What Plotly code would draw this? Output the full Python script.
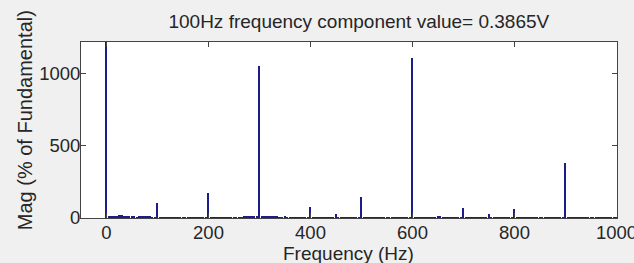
import plotly.graph_objects as go

freq_hz = list(range(0, 1001, 5))
mag_pct = [
    1300, 12, 10, 8, 12, 22, 18, 15, 14, 10, 12, 8, 6, 10, 12, 9, 7, 10, 6, 5,
    105, 6, 4, 3, 5, 2, 3, 4, 2, 3, 5, 3, 2, 4, 3, 2, 3, 4, 3, 2,
    171, 4, 3, 2, 4, 3, 2, 5, 3, 4, 3, 5, 6, 4, 7, 8, 10, 9, 12, 10,
    1049, 12, 10, 8, 14, 11, 9, 7, 6, 5, 8, 4, 6, 3, 5, 4, 3, 6, 4, 3,
    74, 5, 3, 4, 2, 3, 4, 2, 3, 5, 30, 4, 3, 2, 3, 4, 2, 3, 2, 3,
    143, 4, 3, 2, 3, 2, 4, 3, 2, 3, 2, 3, 4, 2, 3, 2, 3, 2, 4, 3,
    1108, 3, 2, 4, 3, 2, 3, 5, 4, 3, 15, 8, 4, 3, 5, 3, 2, 4, 3, 2,
    67, 3, 2, 4, 3, 2, 3, 2, 4, 3, 28, 3, 2, 3, 2, 4, 3, 2, 3, 2,
    64, 3, 2, 3, 4, 2, 3, 2, 3, 4, 2, 3, 2, 4, 3, 2, 3, 2, 3, 4,
    382, 3, 2, 3, 2, 4, 3, 2, 3, 2, 3, 2, 3, 4, 2, 3, 2, 3, 2, 3, 2,
]
x_ticks = [0, 200, 400, 600, 800, 1000]
y_ticks = [0, 500, 1000]
title_text = "100Hz frequency component value= 0.3865V"
x_title = "Frequency (Hz)"
y_title = "Mag (% of Fundamental)"

fig = go.Figure(go.Bar(
    x=freq_hz, y=mag_pct, width=3.6,
    marker=dict(color="#1c1c8a", line=dict(width=0)),
))

font = "Liberation Sans, Arial, sans-serif"
fig.update_layout(
    width=634, height=263,
    margin=dict(l=81, r=17, t=42, b=45),
    paper_bgcolor="#f0f0f0", plot_bgcolor="white",
    font=dict(family=font, size=18, color="#262626"),
    title=dict(text=title_text, x=0.566, xanchor="center", y=0.918, yanchor="middle",
               font=dict(size=19, color="#262626")),
    showlegend=False, bargap=0,
)
fig.update_xaxes(
    range=[-50, 1001], tickvals=x_ticks, ticks="inside", ticklen=5,
    showline=True, linecolor="#444", linewidth=1, mirror="allticks",
    showgrid=False, zeroline=False, tickcolor="#444", automargin=False,
    tickfont=dict(size=18.5), ticklabeloverflow="allow", ticklabelstandoff=-2,
)
fig.update_yaxes(
    range=[0, 1215], tickvals=y_ticks, ticks="inside", ticklen=5,
    showline=True, linecolor="#444", linewidth=1, mirror="allticks",
    showgrid=False, zeroline=False, tickcolor="#444", automargin=False,
    tickfont=dict(size=18.5), ticklabelstandoff=-4,
)
fig.add_annotation(
    text=x_title, xref="paper", yref="paper",
    x=0.499, y=-0.2, xanchor="center", yanchor="middle", showarrow=False,
    font=dict(size=19, color="#262626"),
)
fig.add_annotation(
    text=y_title, textangle=-90, xref="paper", yref="paper",
    x=-0.104, y=0.557, xanchor="center", yanchor="middle", showarrow=False,
    font=dict(size=20, color="#262626"),
)
fig.write_html(
    "out.html",
    config={"displayModeBar": False},
    post_script="document.body.style.margin='0';document.body.style.background='#f0f0f0';",
)
